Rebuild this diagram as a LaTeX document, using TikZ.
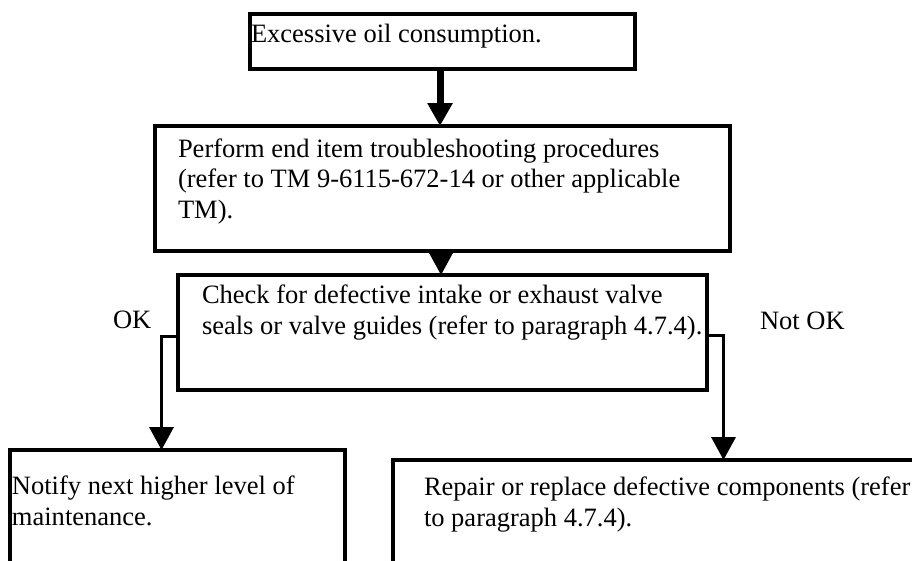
\documentclass[tikz,border=0pt]{standalone}
\usepackage{fontspec}
\setmainfont{Liberation Serif}
\usetikzlibrary{arrows.meta}
\tikzset{
  box/.style={draw=black, line width=4pt, fill=none, inner sep=0pt, outer sep=0pt, anchor=north west},
  txt/.style={inner sep=0pt, outer sep=0pt, anchor=base west, font=\fontsize{26.5}{30.7}\selectfont},
  conn/.style={draw=black, line width=3.5pt, -{Triangle[width=24pt,length=23pt]}},
  bigconn/.style={draw=black, line width=7pt, -{Triangle[width=24pt,length=23pt]}},
}
\begin{document}
\begin{tikzpicture}[x=1pt,y=-1pt]
\clip (0,0) rectangle (912,560);
\fill[white] (0,0) rectangle (912,560);
% boxes
\node[box, minimum width=385pt, minimum height=55pt] (b1) at (250,14) {};
\node[box, minimum width=575.5pt, minimum height=125pt] (b2) at (154.5,126) {};
\node[box, minimum width=528.5pt, minimum height=115pt] (b3) at (178,275) {};
\node[box, minimum width=335.5pt, minimum height=160pt] (b4) at (9.5,450) {};
\node[box, minimum width=540pt, minimum height=150pt] (b5) at (393,460) {};
% texts
\node[txt] (t1) at (251,42) {Excessive oil consumption.};
\node[txt] (t2a) at (178,157) {Perform end item troubleshooting procedures};
\node[txt] (t2b) at (178,187.7) {(refer to TM 9-6115-672-14 or other applicable};
\node[txt] (t2c) at (178,218.4) {TM).};
\node[txt] (t3a) at (202,303.3) {Check for defective intake or exhaust valve};
\node[txt] (t3b) at (202,334) {seals or valve guides (refer to paragraph 4.7.4).};
\node[txt] (t4a) at (12,494) {Notify next higher level of};
\node[txt] (t4b) at (12,525) {maintenance.};
\node[txt] (t5a) at (424,495) {Repair or replace defective components (refer};
\node[txt] (t5b) at (424,526) {to paragraph 4.7.4).};
\node[txt] (ok) at (113,328) {OK};
\node[txt] (nok) at (760,329) {Not OK};
% connectors
\coordinate (okdrop) at (161.5,450);
\coordinate (nokdrop) at (723.5,460);
\draw[bigconn] (b1.south -| 440,0) -- (b2.north -| 440,0);
\draw[conn] (b2.south -| 441,0) -- (b3.north -| 441,0);
\draw[conn] ([yshift=-4pt]b3.west) -| (okdrop);
\draw[conn] ([yshift=-3pt]b3.east) -| (nokdrop);
\end{tikzpicture}
\end{document}
